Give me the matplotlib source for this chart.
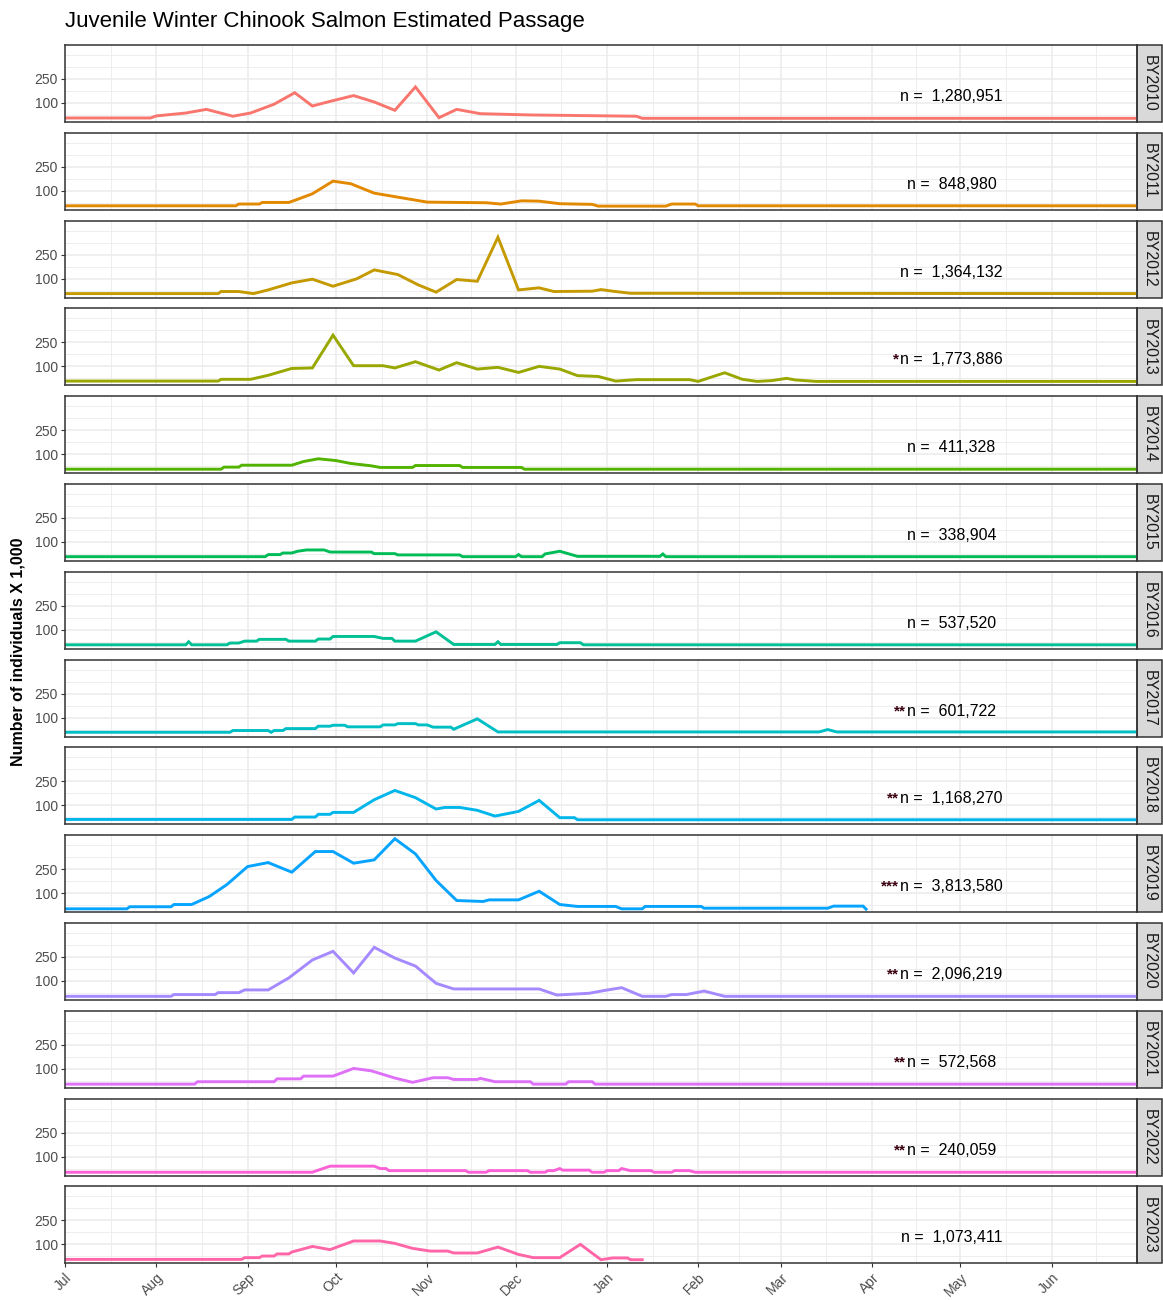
import numpy as np
import pandas as pd
import matplotlib
matplotlib.use('Agg')
import matplotlib.pyplot as plt
import matplotlib.dates as mdates
from matplotlib.patches import Rectangle

plt.rcParams['font.family'] = ['Liberation Sans', 'DejaVu Sans']

# brood years shown as facets
years = ['BY2010', 'BY2011', 'BY2012', 'BY2013', 'BY2014', 'BY2015', 'BY2016',
         'BY2017', 'BY2018', 'BY2019', 'BY2020', 'BY2021', 'BY2022', 'BY2023']

# days since Jul 1 and passage (x 1,000)
by2010_day = [0, 29, 31, 41, 48, 57, 63, 71, 78, 84, 90, 98, 105, 112, 119, 127, 133, 141, 158, 194, 196, 364]
by2010_val = [6, 6, 19, 37, 60, 17, 37, 92, 164, 81, 110, 146, 106, 54, 200, 8, 60, 33, 25, 17, 4, 4]

by2011_day = [0, 58, 59, 66, 67, 76, 78, 84, 91, 97, 105, 113, 123, 143, 148, 155, 161, 168, 179, 181, 204, 206, 214, 215, 364]
by2011_val = [6, 6, 17, 17, 27, 27, 40, 81, 160, 144, 85, 60, 29, 25, 17, 37, 35, 19, 15, 4, 4, 17, 17, 6, 6]

by2012_day = [0, 52, 53, 59, 64, 69, 77, 84, 91, 99, 105, 113, 120, 126, 133, 140, 147, 154, 161, 166, 179, 182, 186, 192, 364]
by2012_val = [6, 6, 19, 19, 6, 29, 73, 96, 52, 98, 154, 125, 60, 15, 94, 83, 358, 29, 42, 19, 21, 31, 21, 8, 6]

by2013_day = [0, 52, 53, 63, 69, 77, 84, 91, 98, 108, 112, 119, 127, 133, 140, 147, 154, 161, 168, 174, 181, 187, 194, 212, 215, 224, 230, 235, 240, 245, 248, 255, 364]
by2013_val = [8, 8, 19, 19, 44, 87, 90, 295, 104, 104, 90, 129, 77, 123, 83, 94, 62, 100, 83, 42, 37, 8, 17, 17, 6, 60, 19, 6, 11, 25, 15, 6, 6]

by2014_day = [0, 53, 54, 59, 60, 77, 81, 86, 92, 97, 104, 107, 118, 119, 134, 135, 155, 156, 364]
by2014_val = [6, 6, 19, 19, 31, 31, 54, 71, 60, 42, 27, 17, 17, 29, 29, 17, 17, 6, 6]

by2015_day = [0, 68, 69, 73, 74, 77, 79, 82, 88, 90, 104, 105, 112, 113, 134, 135, 153, 154, 155, 162, 163, 168, 174, 202, 203, 204, 364]
by2015_val = [8, 8, 21, 21, 31, 31, 42, 50, 50, 37, 37, 27, 27, 19, 19, 8, 8, 21, 8, 8, 25, 42, 10, 10, 25, 8, 8]

by2016_day = [0, 41, 42, 43, 55, 56, 59, 61, 65, 66, 75, 76, 85, 86, 90, 91, 105, 108, 111, 112, 119, 126, 132, 146, 147, 148, 167, 168, 175, 176, 364]
by2016_val = [6, 6, 25, 6, 6, 17, 17, 29, 29, 40, 40, 29, 29, 42, 42, 58, 58, 46, 46, 29, 29, 87, 8, 8, 25, 8, 8, 19, 19, 6, 6]

by2017_day = [0, 56, 57, 69, 70, 71, 74, 75, 85, 86, 90, 91, 95, 96, 107, 108, 112, 113, 119, 120, 123, 125, 131, 132, 140, 147, 256, 259, 262, 364]
by2017_val = [8, 8, 19, 19, 8, 19, 19, 31, 31, 46, 46, 52, 52, 42, 42, 54, 54, 62, 62, 54, 54, 40, 40, 27, 92, 10, 10, 25, 10, 10]

by2018_day = [0, 77, 78, 85, 86, 90, 91, 98, 105, 112, 119, 126, 129, 134, 140, 146, 154, 161, 168, 173, 174, 364]
by2018_val = [12, 12, 27, 27, 44, 44, 56, 56, 135, 193, 148, 77, 87, 87, 69, 33, 62, 131, 23, 23, 10, 10]

by2019_day = [0, 21, 22, 36, 37, 43, 49, 55, 62, 69, 77, 85, 91, 98, 105, 112, 119, 126, 133, 142, 144, 154, 161, 168, 174, 187, 189, 196, 197, 216, 217, 259, 261, 271, 272]
by2019_val = [2, 2, 15, 15, 29, 29, 79, 154, 266, 291, 231, 360, 360, 287, 308, 440, 345, 179, 54, 48, 58, 58, 112, 29, 17, 17, 2, 2, 17, 17, 6, 6, 19, 19, 0]

by2020_day = [0, 36, 37, 51, 52, 59, 61, 69, 76, 84, 91, 98, 105, 112, 119, 126, 132, 161, 167, 178, 183, 189, 196, 204, 206, 211, 217, 224, 364]
by2020_val = [4, 4, 15, 15, 27, 27, 44, 44, 119, 231, 285, 150, 310, 243, 193, 85, 50, 50, 12, 23, 40, 58, 4, 4, 15, 15, 37, 4, 4]

by2021_day = [0, 44, 45, 71, 72, 80, 81, 91, 98, 104, 112, 118, 125, 130, 132, 140, 141, 146, 158, 159, 170, 171, 179, 180, 364]
by2021_val = [4, 4, 19, 19, 37, 37, 54, 54, 102, 87, 42, 15, 44, 44, 33, 33, 40, 19, 19, 4, 4, 19, 19, 4, 4]

by2022_day = [0, 84, 86, 90, 105, 107, 109, 110, 136, 137, 143, 144, 157, 158, 163, 164, 166, 168, 169, 178, 179, 183, 184, 188, 189, 192, 199, 200, 206, 207, 212, 214, 364]
by2022_val = [2, 2, 15, 40, 40, 25, 25, 12, 12, 2, 2, 12, 12, 2, 2, 12, 12, 25, 15, 15, 2, 2, 12, 12, 25, 12, 12, 2, 2, 12, 12, 2, 2]

by2023_day = [0, 60, 61, 66, 67, 71, 72, 76, 77, 84, 90, 98, 107, 112, 118, 124, 130, 132, 140, 147, 154, 159, 168, 175, 182, 186, 191, 192, 196]
by2023_val = [6, 6, 17, 17, 27, 27, 40, 40, 52, 87, 67, 121, 121, 106, 75, 58, 58, 46, 46, 83, 37, 17, 17, 100, 4, 15, 15, 4, 4]

all_days = [by2010_day, by2011_day, by2012_day, by2013_day, by2014_day, by2015_day, by2016_day,
            by2017_day, by2018_day, by2019_day, by2020_day, by2021_day, by2022_day, by2023_day]
all_vals = [by2010_val, by2011_val, by2012_val, by2013_val, by2014_val, by2015_val, by2016_val,
            by2017_val, by2018_val, by2019_val, by2020_val, by2021_val, by2022_val, by2023_val]

n_total = [1280951, 848980, 1364132, 1773886, 411328, 338904, 537520,
           601722, 1168270, 3813580, 2096219, 572568, 240059, 1073411]
stars = ['', '', '', '*', '', '', '', '**', '**', '***', '**', '**', '**', '']

month_labels = ['Jul', 'Aug', 'Sep', 'Oct', 'Nov', 'Dec', 'Jan', 'Feb', 'Mar', 'Apr', 'May', 'Jun']


def hue_colors(n, l=65, c=100):
    # same as ggplot2 default hue palette (HCL -> sRGB)
    xn, yn, zn = 95.047, 100.0, 108.883
    un = 4 * xn / (xn + 15 * yn + 3 * zn)
    vn = 9 * yn / (xn + 15 * yn + 3 * zn)
    m = np.array([[3.240479, -1.537150, -0.498535],
                  [-0.969256, 1.875992, 0.041556],
                  [0.055648, -0.204043, 1.057311]])
    out = []
    for h in np.linspace(15, 375, n + 1)[:-1]:
        y = yn * ((l + 16) / 116) ** 3
        u = c * np.cos(np.radians(h))
        v = c * np.sin(np.radians(h))
        up = u / (13 * l) + un
        vp = v / (13 * l) + vn
        x = y * 9 * up / (4 * vp)
        z = y * (12 - 3 * up - 20 * vp) / (4 * vp)
        rgb = m @ (np.array([x, y, z]) / 100)
        rgb = np.where(rgb <= 0.0031308, 12.92 * rgb, 1.055 * np.clip(rgb, 0, None) ** (1 / 2.4) - 0.055)
        out.append(tuple(np.clip(rgb, 0, 1)))
    return out


colors = hue_colors(len(years))

W, H = 1163, 1300
fig = plt.figure(figsize=(W / 100, H / 100), dpi=100)
fig.patch.set_facecolor('white')

start = pd.Timestamp('2000-07-01')
end = pd.Timestamp('2001-06-30')
months = pd.date_range(start, periods=12, freq='MS')
mnum = mdates.date2num(months)
mid = list((mnum[:-1] + mnum[1:]) / 2) + [(mnum[-1] + mdates.date2num(pd.Timestamp('2001-07-01'))) / 2]
label_x = mdates.date2num(start + pd.Timedelta(days=301))

left, pw, top0, step, ph = 65, 1072, 45, 87.8, 77
renderer = fig.canvas.get_renderer()

for k, yr in enumerate(years):
    ax = fig.add_axes([left / W, (H - (top0 + step * k + ph)) / H, pw / W, ph / H])
    dates = start + pd.to_timedelta(all_days[k], unit='D')
    ax.plot(dates, all_vals[k], color=colors[k], lw=2.1, solid_joinstyle='miter')
    ax.set_xlim(start, end)
    ax.set_ylim(-19, 462)
    ax.set_axisbelow(True)
    ax.set_yticks([100, 250])
    ax.set_yticks([25, 175, 325, 400], minor=True)
    ax.set_xticks(mnum)
    ax.set_xticks(mid, minor=True)
    ax.grid(which='major', color='#EBEBEB', lw=1.1)
    ax.grid(which='minor', color='#EBEBEB', lw=0.6)
    ax.tick_params(axis='y', which='major', length=3, width=0.8, color='#333333',
                   labelsize=10, labelcolor='#4D4D4D', pad=2)
    ax.tick_params(which='minor', length=0)
    for s in ax.spines.values():
        s.set_color('#333333')
        s.set_linewidth(1.1)
    if k == len(years) - 1:
        ax.set_xticklabels(month_labels)
        ax.tick_params(axis='x', which='major', length=3, width=0.8, color='#333333',
                       labelsize=10, labelcolor='#4D4D4D', pad=2)
        for t in ax.get_xticklabels():
            t.set_rotation(45)
            t.set_ha('right')
            t.set_va('top')
            t.set_rotation_mode('anchor')
    else:
        ax.tick_params(axis='x', which='major', length=0, labelbottom=False)

    # facet strip on the right
    sw = 25 / pw
    ax.add_patch(Rectangle((1.0, 0), sw, 1, transform=ax.transAxes, clip_on=False,
                           facecolor='#D9D9D9', edgecolor='#333333', lw=1.1))
    ax.text(1.0 + sw / 2, 0.5, yr, transform=ax.transAxes, rotation=-90,
            ha='center', va='center', fontsize=11.5, color='#1A1A1A')

    t = ax.text(label_x, 140, 'n =  ' + f'{n_total[k]:,}', ha='center', va='center',
                fontsize=11.5, color='black')
    if stars[k]:
        bb = t.get_window_extent(renderer)
        xs = ax.transData.inverted().transform((bb.x0 - 1, 0))[0]
        ax.text(xs, 140, stars[k], ha='right', va='center', fontsize=11,
                fontweight='bold', color='#3a0010')

fig.text(65 / W, 1 - 22 / H, 'Juvenile Winter Chinook Salmon Estimated Passage',
         ha='left', va='center', fontsize=16, color='black')
fig.text(18 / W, 1 - 652 / H, 'Number of individuals X 1,000', rotation=90,
         ha='center', va='center', fontsize=11.5, fontweight='bold', color='black')

fig.savefig('out.png', dpi=100)
